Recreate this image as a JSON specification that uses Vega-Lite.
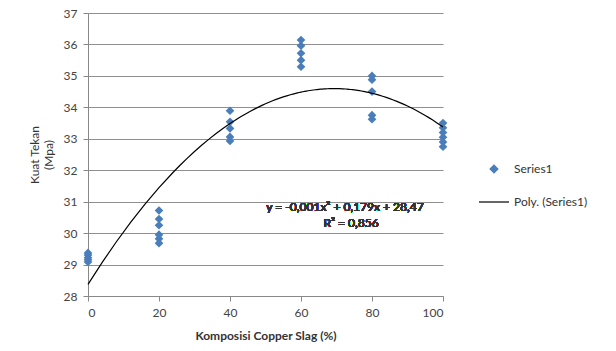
{
  "$schema": "https://vega.github.io/schema/vega-lite/v6.json",
  "width": 355,
  "height": 283,
  "autosize": "none",
  "padding": {"left": 88, "top": 13, "right": 173, "bottom": 55},
  "background": "white",
  "config": {
    "view": {"stroke": null},
    "font": "Lato",
    "axis": {
      "labelFont": "Lato",
      "labelFontSize": 12,
      "labelColor": "#444444",
      "titleFont": "Lato",
      "titleFontSize": 12,
      "titleColor": "#333333",
      "domainColor": "#888888",
      "tickColor": "#888888",
      "tickSize": 5,
      "gridColor": "#8f8f8f",
      "gridWidth": 1,
      "labelOverlap": false
    }
  },
  "data": {
    "values": [
      {"komposisi": 0, "kuat": 29.08},
      {"komposisi": 0, "kuat": 29.15},
      {"komposisi": 0, "kuat": 29.22},
      {"komposisi": 0, "kuat": 29.3},
      {"komposisi": 0, "kuat": 29.37},
      {"komposisi": 20, "kuat": 30.72},
      {"komposisi": 20, "kuat": 30.45},
      {"komposisi": 20, "kuat": 30.25},
      {"komposisi": 20, "kuat": 29.95},
      {"komposisi": 20, "kuat": 29.82},
      {"komposisi": 20, "kuat": 29.68},
      {"komposisi": 40, "kuat": 33.89},
      {"komposisi": 40, "kuat": 33.54},
      {"komposisi": 40, "kuat": 33.33},
      {"komposisi": 40, "kuat": 33.06},
      {"komposisi": 40, "kuat": 32.93},
      {"komposisi": 60, "kuat": 36.14},
      {"komposisi": 60, "kuat": 35.96},
      {"komposisi": 60, "kuat": 35.72},
      {"komposisi": 60, "kuat": 35.5},
      {"komposisi": 60, "kuat": 35.29},
      {"komposisi": 80, "kuat": 35.0},
      {"komposisi": 80, "kuat": 34.88},
      {"komposisi": 80, "kuat": 34.5},
      {"komposisi": 80, "kuat": 33.75},
      {"komposisi": 80, "kuat": 33.62},
      {"komposisi": 100, "kuat": 33.5},
      {"komposisi": 100, "kuat": 33.35},
      {"komposisi": 100, "kuat": 33.2},
      {"komposisi": 100, "kuat": 33.05},
      {"komposisi": 100, "kuat": 32.9},
      {"komposisi": 100, "kuat": 32.75}
    ]
  },
  "layer": [
    {
      "mark": {"type": "point", "shape": "diamond", "filled": true, "size": 75, "opacity": 1},
      "encoding": {
        "x": {
          "field": "komposisi",
          "type": "quantitative",
          "scale": {"domain": [0, 100], "nice": false, "zero": false},
          "axis": {
            "values": [0, 20, 40, 60, 80, 100],
            "grid": false,
            "title": "Komposisi Copper Slag (%)",
            "titleFontWeight": "bold",
            "titlePadding": 12,
            "labelPadding": 6
          }
        },
        "y": {
          "field": "kuat",
          "type": "quantitative",
          "scale": {"domain": [28, 37], "nice": false, "zero": false},
          "axis": {
            "values": [28, 29, 30, 31, 32, 33, 34, 35, 36, 37],
            "grid": true,
            "title": ["Kuat Tekan", "(Mpa)"],
            "titleFontWeight": "normal",
            "titlePadding": 8,
            "labelPadding": 6
          }
        },
        "color": {
          "datum": "Series1",
          "scale": {"domain": ["Series1", "Poly. (Series1)"], "range": ["#4a7ebb", "#000000"]},
          "legend": {
            "title": null,
            "orient": "none",
            "legendX": 390,
            "legendY": 140,
            "labelFont": "Lato",
            "labelFontSize": 12,
            "labelColor": "#333333",
            "symbolSize": 900,
            "rowPadding": 10,
            "labelOffset": 4,
            "encode": {
              "symbols": {
                "update": {
                  "shape": {"signal": "datum.value === 'Series1' ? 'diamond' : 'stroke'"},
                  "size": {"signal": "datum.value === 'Series1' ? 60 : 900"},
                  "fill": {"signal": "datum.value === 'Series1' ? '#4a7ebb' : 'transparent'"},
                  "stroke": {"signal": "datum.value === 'Series1' ? 'transparent' : '#000000'"},
                  "strokeWidth": {"value": 1.2},
                  "opacity": {"value": 1}
                }
              }
            }
          }
        }
      }
    },
    {
      "transform": [
        {"regression": "kuat", "on": "komposisi", "method": "poly", "order": 2, "extent": [0, 100]}
      ],
      "mark": {"type": "line", "strokeWidth": 1.2},
      "encoding": {
        "x": {
          "field": "komposisi",
          "type": "quantitative",
          "axis": {
            "values": [0, 20, 40, 60, 80, 100],
            "grid": false,
            "title": "Komposisi Copper Slag (%)",
            "titleFontWeight": "bold",
            "titlePadding": 12,
            "labelPadding": 6
          }
        },
        "y": {
          "field": "kuat",
          "type": "quantitative",
          "axis": {
            "values": [28, 29, 30, 31, 32, 33, 34, 35, 36, 37],
            "grid": true,
            "title": ["Kuat Tekan", "(Mpa)"],
            "titleFontWeight": "normal",
            "titlePadding": 8,
            "labelPadding": 6
          }
        },
        "color": {
          "datum": "Poly. (Series1)",
          "legend": {
            "title": null,
            "orient": "none",
            "legendX": 390,
            "legendY": 140,
            "labelFont": "Lato",
            "labelFontSize": 12,
            "labelColor": "#333333",
            "symbolSize": 900,
            "rowPadding": 10,
            "labelOffset": 4,
            "encode": {
              "symbols": {
                "update": {
                  "shape": {"signal": "datum.value === 'Series1' ? 'diamond' : 'stroke'"},
                  "size": {"signal": "datum.value === 'Series1' ? 60 : 900"},
                  "fill": {"signal": "datum.value === 'Series1' ? '#4a7ebb' : 'transparent'"},
                  "stroke": {"signal": "datum.value === 'Series1' ? 'transparent' : '#000000'"},
                  "strokeWidth": {"value": 1.2},
                  "opacity": {"value": 1}
                }
              }
            }
          }
        }
      }
    },
    {
      "mark": {"type": "text", "align": "center", "baseline": "middle", "font": "Lato", "fontSize": 12, "color": "#333333"},
      "encoding": {
        "x": {
          "datum": 72.4,
          "type": "quantitative",
          "axis": {
            "values": [0, 20, 40, 60, 80, 100],
            "grid": false,
            "title": "Komposisi Copper Slag (%)",
            "titleFontWeight": "bold",
            "titlePadding": 12,
            "labelPadding": 6
          }
        },
        "y": {
          "datum": 30.83,
          "type": "quantitative",
          "axis": {
            "values": [28, 29, 30, 31, 32, 33, 34, 35, 36, 37],
            "grid": true,
            "title": ["Kuat Tekan", "(Mpa)"],
            "titleFontWeight": "normal",
            "titlePadding": 8,
            "labelPadding": 6
          }
        },
        "text": {"value": "y = -0,001x² + 0,179x + 28,47"}
      }
    },
    {
      "mark": {"type": "text", "align": "center", "baseline": "middle", "font": "Lato", "fontSize": 12, "color": "#333333"},
      "encoding": {
        "x": {
          "datum": 74.1,
          "type": "quantitative",
          "axis": {
            "values": [0, 20, 40, 60, 80, 100],
            "grid": false,
            "title": "Komposisi Copper Slag (%)",
            "titleFontWeight": "bold",
            "titlePadding": 12,
            "labelPadding": 6
          }
        },
        "y": {
          "datum": 30.31,
          "type": "quantitative",
          "axis": {
            "values": [28, 29, 30, 31, 32, 33, 34, 35, 36, 37],
            "grid": true,
            "title": ["Kuat Tekan", "(Mpa)"],
            "titleFontWeight": "normal",
            "titlePadding": 8,
            "labelPadding": 6
          }
        },
        "text": {"value": "R² = 0,856"}
      }
    }
  ]
}
